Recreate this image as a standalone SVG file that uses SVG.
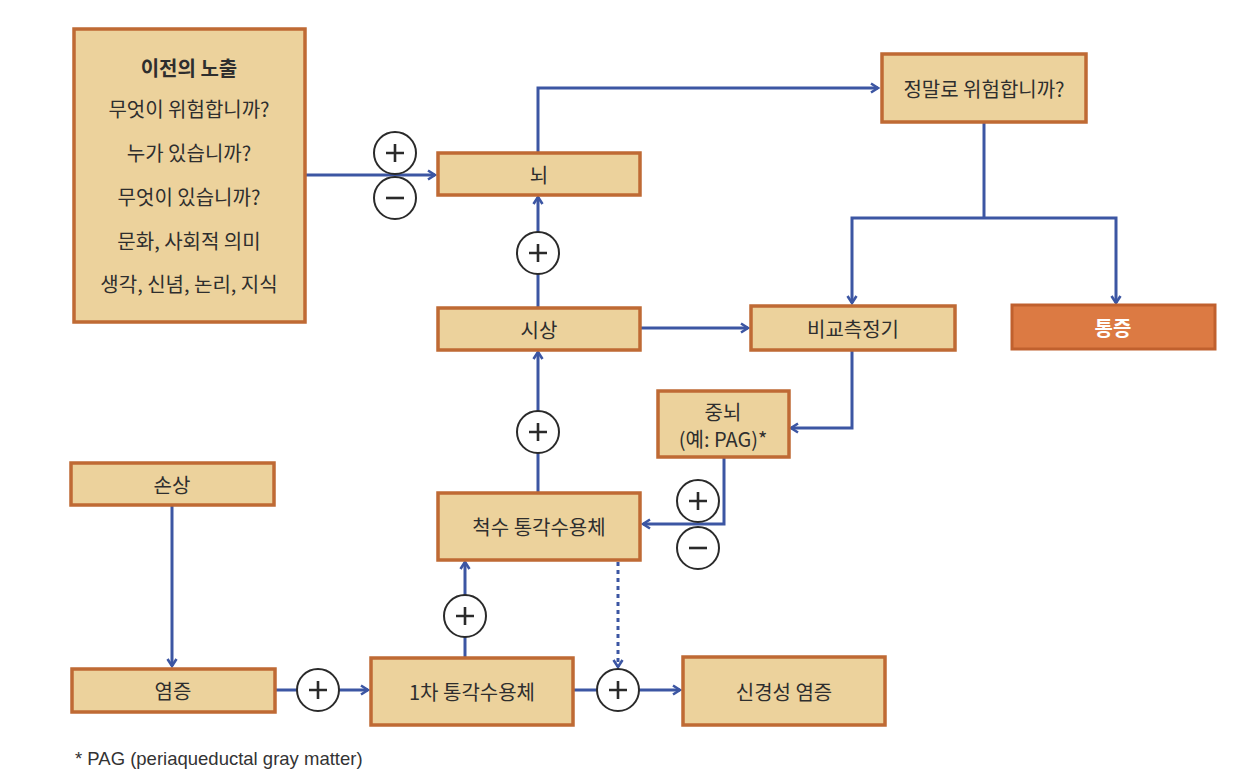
<svg xmlns="http://www.w3.org/2000/svg" width="1241" height="775" viewBox="0 0 1241 775">
<style>
.box{fill:#ecd29c;stroke:#bf6a34;stroke-width:3.5}
.pain{fill:#dc7a43;stroke:#c0602e;stroke-width:3}
.t{font-family:"Noto Sans CJK KR","Noto Sans",sans-serif;font-size:20px;fill:#2e2e2e;text-anchor:middle;dominant-baseline:central}
.tw{fill:#ffffff;font-weight:bold}
.b{font-weight:bold}
.ln{fill:none;stroke:#3c56a3;stroke-width:3}
.dot{stroke-dasharray:4 4}
.c{fill:#ffffff;stroke:#2a2a2a;stroke-width:2}
.sym{fill:none;stroke:#2a2a2a;stroke-width:2.6}
.foot{font-family:"Liberation Sans","Noto Sans",sans-serif;font-size:18.5px;fill:#333}
</style>
<defs>
<marker id="ah" viewBox="0 0 12 12" refX="10" refY="6" markerWidth="12" markerHeight="12" markerUnits="userSpaceOnUse" orient="auto">
<path d="M3,1.5 L10,6 L3,10.5" fill="none" stroke="#3c56a3" stroke-width="2.6"/>
</marker>
</defs>
<rect width="1241" height="775" fill="#ffffff"/>
<g id="connectors">
<path class="ln" d="M305,175 H435" marker-end="url(#ah)"/>
<path class="ln" d="M538,152 V88 H878" marker-end="url(#ah)"/>
<path class="ln" d="M984,122 V218"/>
<path class="ln" d="M984,218 H852 V303" marker-end="url(#ah)"/>
<path class="ln" d="M984,218 H1116 V303" marker-end="url(#ah)"/>
<path class="ln" d="M538,307 V197" marker-end="url(#ah)"/>
<path class="ln" d="M640,328 H748" marker-end="url(#ah)"/>
<path class="ln" d="M852,350 V428 H791" marker-end="url(#ah)"/>
<path class="ln" d="M724,457 V524 H643" marker-end="url(#ah)"/>
<path class="ln" d="M538,492 V352" marker-end="url(#ah)"/>
<path class="ln" d="M465,657 V562" marker-end="url(#ah)"/>
<path class="ln dot" d="M618,562 V667" marker-end="url(#ah)"/>
<path class="ln" d="M172,505 V666" marker-end="url(#ah)"/>
<path class="ln" d="M275,690 H368" marker-end="url(#ah)"/>
<path class="ln" d="M573,690 H680" marker-end="url(#ah)"/>
</g>
<g id="signs">
<g id="s1"><circle class="c" cx="395" cy="153" r="21"/><path class="sym" d="M386,153 H404 M395,144 V162"/></g>
<g id="s2"><circle class="c" cx="395" cy="198" r="21"/><path class="sym" d="M386,198 H404"/></g>
<g id="s3"><circle class="c" cx="538" cy="253" r="21"/><path class="sym" d="M529,253 H547 M538,244 V262"/></g>
<g id="s4"><circle class="c" cx="538" cy="432" r="21"/><path class="sym" d="M529,432 H547 M538,423 V441"/></g>
<g id="s5"><circle class="c" cx="698" cy="501" r="21"/><path class="sym" d="M689,501 H707 M698,492 V510"/></g>
<g id="s6"><circle class="c" cx="698" cy="548" r="21"/><path class="sym" d="M689,548 H707"/></g>
<g id="s7"><circle class="c" cx="465" cy="616" r="21"/><path class="sym" d="M456,616 H474 M465,607 V625"/></g>
<g id="s8"><circle class="c" cx="318" cy="690" r="21"/><path class="sym" d="M309,690 H327 M318,681 V699"/></g>
<g id="s9"><circle class="c" cx="618" cy="690" r="21"/><path class="sym" d="M609,690 H627 M618,681 V699"/></g>
</g>
<g id="prior">
<rect class="box" x="74" y="29" width="231" height="293"/>
<text class="t b" x="189" y="67">이전의 노출</text>
<text class="t" x="189" y="108">무엇이 위험합니까?</text>
<text class="t" x="189" y="152">누가 있습니까?</text>
<text class="t" x="189" y="196">무엇이 있습니까?</text>
<text class="t" x="189" y="240">문화, 사회적 의미</text>
<text class="t" x="189" y="283">생각, 신념, 논리, 지식</text>
</g>
<g id="brain"><rect class="box" x="438" y="153" width="202" height="42"/><text class="t" x="539" y="174">뇌</text></g>
<g id="danger"><rect class="box" x="882" y="54" width="204" height="68"/><text class="t" x="984" y="88">정말로 위험합니까?</text></g>
<g id="thalamus"><rect class="box" x="438" y="308" width="202" height="42"/><text class="t" x="539" y="329">시상</text></g>
<g id="comparator"><rect class="box" x="751" y="306" width="204" height="44"/><text class="t" x="853" y="328">비교측정기</text></g>
<g id="pain"><rect class="pain" x="1012" y="305" width="203" height="44"/><text class="t tw" x="1113" y="327">통증</text></g>
<g id="midbrain"><rect class="box" x="658" y="391" width="131" height="66"/><text class="t" x="723" y="411">중뇌</text><text class="t" x="723" y="438">(예: PAG)*</text></g>
<g id="spinal"><rect class="box" x="438" y="493" width="202" height="67"/><text class="t" x="539" y="526">척수 통각수용체</text></g>
<g id="injury"><rect class="box" x="71" y="463" width="203" height="42"/><text class="t" x="172" y="484">손상</text></g>
<g id="inflammation"><rect class="box" x="72" y="669" width="203" height="43"/><text class="t" x="173" y="690">염증</text></g>
<g id="primary"><rect class="box" x="371" y="658" width="202" height="67"/><text class="t" x="472" y="691">1차 통각수용체</text></g>
<g id="neuro"><rect class="box" x="683" y="657" width="202" height="68"/><text class="t" x="784" y="691">신경성 염증</text></g>
<text class="foot" x="75" y="765">* PAG (periaqueductal gray matter)</text>
</svg>
